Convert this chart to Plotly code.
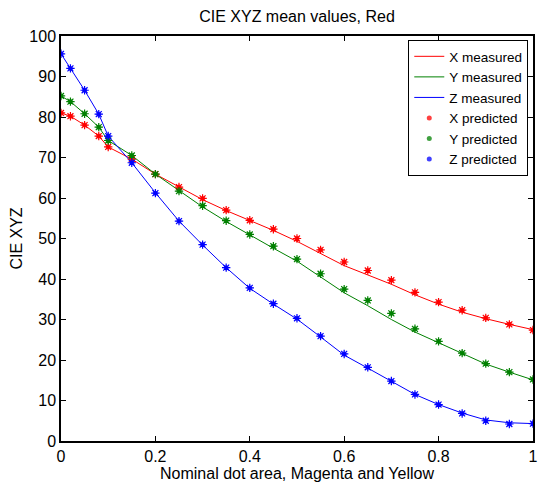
import plotly.graph_objects as go

# Nominal dot area (Magenta and Yellow)
dot_area = [0, 0.02, 0.05, 0.08, 0.1, 0.15, 0.2, 0.25, 0.3, 0.35, 0.4, 0.45, 0.5,
            0.55, 0.6, 0.65, 0.7, 0.75, 0.8, 0.85, 0.9, 0.95, 1.0]

# Measured CIE XYZ mean values
x_measured = [81.0, 80.2, 78.0, 75.3, 72.6, 69.6, 65.9, 62.8, 59.6, 56.9, 54.4, 52.0, 49.3,
              46.3, 43.3, 41.0, 38.7, 36.1, 33.8, 31.8, 30.2, 28.8, 27.5]
y_measured = [85.2, 83.8, 80.8, 77.5, 74.2, 70.5, 65.9, 61.8, 57.8, 54.2, 50.8, 47.6, 44.4,
              40.6, 36.6, 33.4, 30.0, 26.9, 24.2, 21.5, 19.0, 17.0, 15.1]
z_measured = [95.6, 92.0, 86.6, 80.7, 75.3, 68.7, 61.3, 54.3, 48.4, 42.8, 37.7, 33.8, 30.1,
              25.7, 21.2, 18.0, 14.7, 11.5, 9.0, 6.9, 5.2, 4.5, 4.3]

# Predicted CIE XYZ values
x_predicted = [81.0, 80.2, 78.0, 75.3, 72.6, 69.6, 65.9, 62.7, 59.9, 57.0, 54.5, 52.3, 50.0,
               47.2, 44.2, 42.1, 39.7, 36.7, 34.3, 32.3, 30.4, 28.8, 27.4]
y_predicted = [85.2, 83.8, 80.8, 77.5, 74.2, 70.5, 65.9, 61.7, 58.1, 54.4, 51.0, 48.1, 44.9,
               41.3, 37.5, 34.7, 31.5, 27.7, 24.6, 21.7, 19.1, 17.0, 15.2]
z_predicted = [95.6, 92.0, 86.6, 80.7, 75.3, 68.7, 61.2, 54.3, 48.5, 42.8, 37.8, 33.9, 30.3,
               25.9, 21.5, 18.2, 14.8, 11.5, 9.0, 6.8, 5.0, 4.2, 4.3]

x_ticks = [0, 0.2, 0.4, 0.6, 0.8, 1]
y_ticks = list(range(0, 101, 10))

red, green, blue = "#ff0000", "#008000", "#0000ff"
FONT = "Liberation Sans, Arial, Helvetica, sans-serif"

fig = go.Figure()

measured = [("X measured", x_measured, red), ("Y measured", y_measured, green),
            ("Z measured", z_measured, blue)]
predicted = [("X predicted", x_predicted, red), ("Y predicted", y_predicted, green),
             ("Z predicted", z_predicted, blue)]

for name, vals, col in measured:
    fig.add_trace(go.Scatter(x=dot_area, y=vals, mode="lines", name=name,
                             line=dict(color=col, width=1)))

for name, vals, col in predicted:
    fig.add_trace(go.Scatter(x=dot_area, y=vals, mode="markers", name=name,
                             marker=dict(symbol="circle", size=5, color=col, opacity=0.75,
                                         line=dict(width=0))))
    fig.add_trace(go.Scatter(x=dot_area, y=vals, mode="markers", showlegend=False,
                             hoverinfo="skip",
                             marker=dict(symbol="asterisk", size=7,
                                         line=dict(color=col, width=1.2))))

axis_common = dict(showline=True, linecolor="black", linewidth=1.5, mirror="ticks",
                   ticks="inside", ticklen=5, tickcolor="black", tickwidth=1,
                   showgrid=False, zeroline=False, ticklabeloverflow="allow",
                   tickfont=dict(family=FONT, size=16, color="black"))

fig.update_xaxes(range=[0, 1.0001], tickvals=x_ticks, ticktext=[str(t) for t in x_ticks],
                 **axis_common)
fig.update_yaxes(range=[0, 100], tickvals=y_ticks,
                 title=dict(text="CIE XYZ", font=dict(family=FONT, size=16, color="black"),
                            standoff=3),
                 **axis_common)

# x-axis caption, set just under the tick labels
fig.add_annotation(text="Nominal dot area, Magenta and Yellow", xref="paper", yref="paper",
                   x=0.5, y=-0.081, xanchor="center", yanchor="middle", showarrow=False,
                   font=dict(family=FONT, size=16, color="black"))

fig.update_layout(
    width=539, height=482,
    margin=dict(l=61, r=2, t=36, b=41),
    paper_bgcolor="white", plot_bgcolor="white",
    title=dict(text="CIE XYZ mean values, Red", xref="paper", x=0.5, xanchor="center",
               yref="container", y=0.965, yanchor="middle",
               font=dict(family=FONT, size=16, color="black")),
    legend=dict(x=0.99, y=0.99, xanchor="right", yanchor="top",
                bgcolor="white", bordercolor="black", borderwidth=1,
                font=dict(family=FONT, size=13.5, color="black"),
                tracegroupgap=0, itemwidth=30),
    showlegend=True,
)

fig.write_html("out.html")
